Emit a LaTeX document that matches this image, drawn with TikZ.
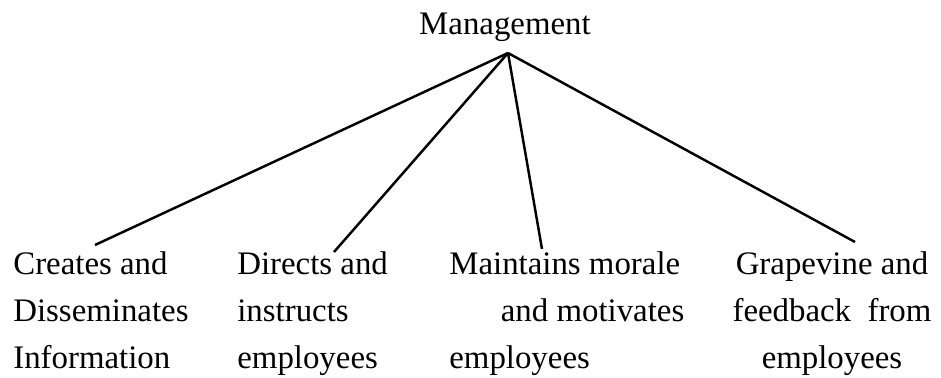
\documentclass[tikz,border=0pt]{standalone}
\usepackage{fontspec}
\setmainfont{Liberation Serif}
\usetikzlibrary{positioning,calc}
\tikzset{
head/.style={
    inner sep=0pt,
    anchor=base,
    font=\fontsize{18.7}{26.7}\selectfont
},
branch/.style={
    inner sep=0pt,
    anchor=base west,
    align=flush left,
    text width=4cm,
    font=\fontsize{18.7}{26.7}\selectfont
},
branchline/.style={
    black,line width=1.4pt
},
}

\begin{document}
\begin{tikzpicture}[x=0.02cm,y=-0.02cm]
\useasboundingbox (0,0) rectangle (941,378);
%
\node [head] (mgmt) at (505,35) {Management};
\coordinate (apex) at (508,53);
%
\node [branch] (create) at (13,275) {Creates and\\Disseminates\\Information};
\node [branch] (direct) at (237,275) {Directs and\\instructs\\employees};
\node [branch,text width=4.7cm] (morale) at (449,275) {Maintains morale\\\hspace*{\fill}and motivates\hspace*{0.05cm}\\employees};
\node [branch,anchor=base,align=flush center,text width=5cm] (grape) at (832,275) {Grapevine and\\feedback\ \ from\\employees};
%
\coordinate (create-top) at (95,245);
\coordinate (direct-top) at (334,252);
\coordinate (morale-top) at (542,249);
\coordinate (grape-top) at (855,242);
%
\draw (apex)
    edge [branchline] (create-top)
    edge [branchline] (direct-top)
    edge [branchline] (morale-top)
    edge [branchline] (grape-top);
%
\end{tikzpicture}
\end{document}
